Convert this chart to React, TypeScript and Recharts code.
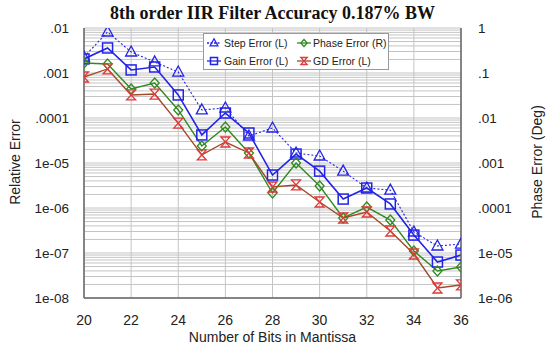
import React from 'react';
import { LineChart, Line, XAxis, YAxis, CartesianGrid } from 'recharts';

const bits = [20, 21, 22, 23, 24, 25, 26, 27, 28, 29, 30, 31, 32, 33, 34, 35, 36];
const stepError = [2.27e-3, 8.15e-3, 2.93e-3, 1.76e-3, 1.05e-3, 1.51e-4, 1.67e-4, 3.98e-5, 6.0e-5, 1.67e-5, 1.43e-5, 6.6e-6, 2.78e-6, 2.5e-6, 2.93e-7, 1.43e-7, 1.58e-7];
const gainError = [2.05e-3, 3.6e-3, 1.17e-3, 1.36e-3, 3.25e-4, 4.2e-5, 1.29e-4, 4.64e-5, 5.4e-6, 1.58e-5, 6.6e-6, 1.58e-6, 2.78e-6, 1.23e-6, 2.5e-7, 6.3e-8, 9.0e-8];
const phaseError = [0.167, 0.158, 0.044, 0.06, 0.0151, 2.39e-3, 6.3e-3, 1.67e-3, 2.15e-4, 1.0e-3, 3.08e-4, 6.0e-5, 1.05e-4, 5.4e-5, 1.11e-5, 3.98e-6, 4.9e-6];
const gdError = [8.15e-4, 1.23e-3, 3.25e-4, 3.4e-4, 7.7e-5, 1.51e-5, 2.93e-5, 1.67e-5, 2.93e-6, 3.25e-6, 1.36e-6, 6.0e-7, 8.15e-7, 3.08e-7, 9.5e-8, 1.67e-8, 1.95e-8];

const xTicks = [20, 22, 24, 26, 28, 30, 32, 34, 36];
const leftTicks = [1e-8, 1e-7, 1e-6, 1e-5, 1e-4, 1e-3, 1e-2];
const leftTickLabels = ['1e-08', '1e-07', '1e-06', '1e-05', '.0001', '.001', '.01'];
const rightTicks = [1e-6, 1e-5, 1e-4, 1e-3, 1e-2, 1e-1, 1];
const rightTickLabels = ['1e-06', '1e-05', '.0001', '.001', '.01', '.1', '1'];

const minorTicks: number[] = [];
for (let e = -8; e < -2; e++) {
  for (let m = 1; m <= 9; m++) minorTicks.push(m * Math.pow(10, e));
}
minorTicks.push(1e-2);

const data = bits.map((b, i) => ({
  bits: b,
  step: stepError[i],
  gain: gainError[i],
  phase: phaseError[i],
  gd: gdError[i],
}));

const BLUE = '#2323e8';
const GREEN = '#2f8a1f';
const GD_LINE = '#a04a28';
const GD_MARK = '#e03a3a';
const FONT = '"Liberation Sans", Arial, sans-serif';

const tri = (cx: number, cy: number, c: string, k?: any, s = 1) => (
  <path key={k} d={`M${cx},${cy - 6 * s} L${cx + 5.5 * s},${cy + 4 * s} L${cx - 5.5 * s},${cy + 4 * s} Z`} fill="none" stroke={c} strokeWidth={1.3} />
);
const sq = (cx: number, cy: number, c: string, k?: any, s = 1) => (
  <rect key={k} x={cx - 5 * s} y={cy - 5 * s} width={10 * s} height={10 * s} fill="none" stroke={c} strokeWidth={1.5} />
);
const dia = (cx: number, cy: number, c: string, k?: any, s = 1) => (
  <path key={k} d={`M${cx},${cy - 5 * s} L${cx + 4.5 * s},${cy} L${cx},${cy + 5 * s} L${cx - 4.5 * s},${cy} Z`} fill="none" stroke={c} strokeWidth={1.3} />
);
const hg = (cx: number, cy: number, c: string, k?: any, s = 1) => (
  <path key={k} d={`M${cx - 4.5 * s},${cy - 5 * s} L${cx + 4.5 * s},${cy - 5 * s} L${cx - 4.5 * s},${cy + 5 * s} L${cx + 4.5 * s},${cy + 5 * s} Z`} fill="none" stroke={c} strokeWidth={1.3} />
);

const mkDot = (fn: any, c: string) => (p: any) => {
  if (p.cx == null || p.cy == null) return <g key={p.key} />;
  return fn(p.cx, p.cy, c, p.key);
};

const legendItems = [
  { name: 'Step Error (L)', color: BLUE, lineColor: BLUE, fn: tri, dash: '2 1.5', col: 0, row: 0 },
  { name: 'Phase Error (R)', color: GREEN, lineColor: GREEN, fn: dia, dash: undefined, col: 1, row: 0 },
  { name: 'Gain Error (L)', color: BLUE, lineColor: BLUE, fn: sq, dash: undefined, col: 0, row: 1 },
  { name: 'GD Error (L)', color: GD_MARK, lineColor: GD_LINE, fn: hg, dash: undefined, col: 1, row: 1 },
];

const LegendBox = () => (
  <div
    style={{
      position: 'absolute',
      left: 203,
      top: 33,
      width: 186,
      height: 37,
      background: '#fff',
      border: '1px solid #999',
      boxSizing: 'border-box',
      fontFamily: FONT,
      fontSize: 10.5,
      color: '#222',
    }}
  >
    {legendItems.map((it, i) => (
      <div
        key={i}
        style={{
          position: 'absolute',
          left: it.col === 0 ? 3 : 93,
          top: it.row === 0 ? 1 : 19,
          height: 16,
          display: 'flex',
          alignItems: 'center',
          whiteSpace: 'nowrap',
        }}
      >
        <svg width={14} height={14} style={{ marginRight: it.col === 0 ? 3 : 2 }}>
          <line x1={0} y1={7} x2={14} y2={7} stroke={it.lineColor} strokeWidth={1.3} strokeDasharray={it.dash} />
          {it.fn(7, 7, it.color, undefined, 0.7)}
        </svg>
        <span>{it.name}</span>
      </div>
    ))}
  </div>
);

export default function App() {
  return (
    <div style={{ position: 'absolute', left: 0, top: 0, width: 550, height: 347, background: '#fff', fontFamily: FONT }}>
      <div
        style={{
          position: 'absolute',
          left: 0,
          top: 3,
          width: 545,
          textAlign: 'center',
          fontFamily: '"Liberation Serif", "Times New Roman", serif',
          fontWeight: 'bold',
          fontSize: 18,
          color: '#111',
        }}
      >
        8th order IIR Filter Accuracy 0.187% BW
      </div>
      <LineChart width={550} height={347} data={data} margin={{ top: 28, right: 0, bottom: 19, left: 0 }}>
        <CartesianGrid yAxisId="grid" xAxisId="bottom" stroke="#c4c4c4" strokeWidth={1} />
        <XAxis
          xAxisId="bottom"
          dataKey="bits"
          type="number"
          domain={[20, 36]}
          ticks={xTicks}
          height={30}
          tickLine={false}
          tickMargin={11}
          axisLine={{ stroke: '#666', strokeWidth: 1.5 }}
          tick={{ fill: '#222', fontSize: 14, fontFamily: FONT }}
          allowDataOverflow
        />
        <XAxis xAxisId="top" orientation="top" dataKey="bits" type="number" domain={[20, 36]} height={0} tick={false} tickLine={false} axisLine={{ stroke: '#666', strokeWidth: 1.5 }} />
        <YAxis
          yAxisId="left"
          scale="log"
          type="number"
          domain={[1e-8, 1e-2]}
          ticks={leftTicks}
          tickFormatter={(v: number) => leftTickLabels[leftTicks.findIndex((t) => Math.abs(Math.log10(t) - Math.log10(v)) < 1e-6)] ?? ''}
          width={84}
          tickLine={false}
          tickMargin={9}
          axisLine={{ stroke: '#666', strokeWidth: 1.5 }}
          tick={{ fill: '#222', fontSize: 13.5, fontFamily: FONT }}
          allowDataOverflow
          interval={0}
        />
        <YAxis
          yAxisId="right"
          orientation="right"
          scale="log"
          type="number"
          domain={[1e-6, 1]}
          ticks={rightTicks}
          tickFormatter={(v: number) => rightTickLabels[rightTicks.findIndex((t) => Math.abs(Math.log10(t) - Math.log10(v)) < 1e-6)] ?? ''}
          width={89}
          tickLine={false}
          tickMargin={11}
          axisLine={{ stroke: '#666', strokeWidth: 1.5 }}
          tick={{ fill: '#222', fontSize: 13.5, fontFamily: FONT }}
          allowDataOverflow
          interval={0}
        />
        <YAxis yAxisId="grid" hide width={0} scale="log" type="number" domain={[1e-8, 1e-2]} ticks={minorTicks} interval={0} allowDataOverflow />
        <Line xAxisId="bottom" yAxisId="left" dataKey="step" name="Step Error (L)" stroke={BLUE} strokeWidth={1.1} strokeDasharray="2 2" dot={mkDot(tri, BLUE)} isAnimationActive={false} />
        <Line xAxisId="bottom" yAxisId="left" dataKey="gain" name="Gain Error (L)" stroke={BLUE} strokeWidth={1.6} dot={mkDot(sq, BLUE)} isAnimationActive={false} />
        <Line xAxisId="bottom" yAxisId="right" dataKey="phase" name="Phase Error (R)" stroke={GREEN} strokeWidth={1.4} dot={mkDot(dia, GREEN)} isAnimationActive={false} />
        <Line xAxisId="bottom" yAxisId="left" dataKey="gd" name="GD Error (L)" stroke={GD_LINE} strokeWidth={1.4} dot={mkDot(hg, GD_MARK)} isAnimationActive={false} />
      </LineChart>
      <LegendBox />
      <div
        style={{
          position: 'absolute',
          left: 0,
          top: 329,
          width: 545,
          textAlign: 'center',
          fontSize: 14,
          color: '#222',
        }}
      >
        Number of Bits in Mantissa
      </div>
      <div
        style={{
          position: 'absolute',
          left: 15,
          top: 162,
          transform: 'translate(-50%, -50%) rotate(-90deg)',
          whiteSpace: 'nowrap',
          fontSize: 14,
          color: '#222',
        }}
      >
        Relative Error
      </div>
      <div
        style={{
          position: 'absolute',
          left: 537,
          top: 162,
          transform: 'translate(-50%, -50%) rotate(-90deg)',
          whiteSpace: 'nowrap',
          fontSize: 14,
          color: '#222',
        }}
      >
        Phase Error (Deg)
      </div>
    </div>
  );
}
